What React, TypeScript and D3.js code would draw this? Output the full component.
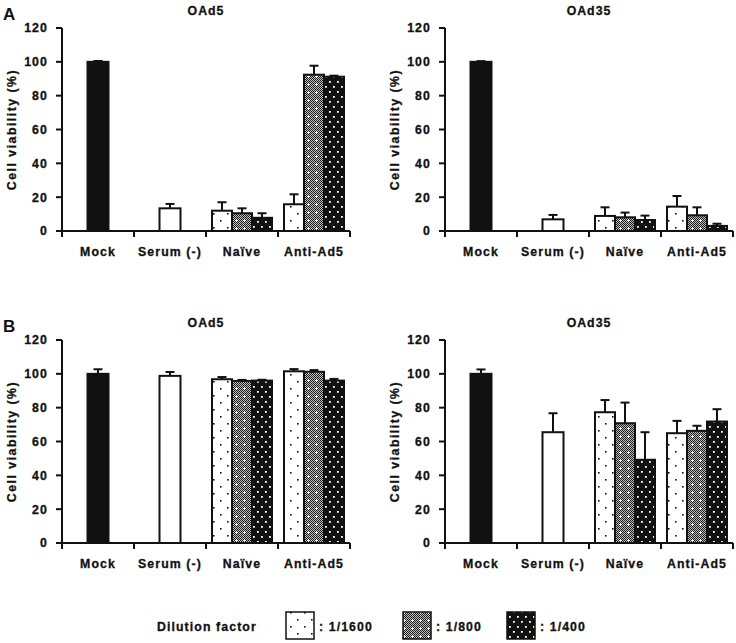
import { useRef, useEffect } from 'react'
import * as d3 from 'd3'

// categories and dilution series
const categories = ["Mock", "Serum (-)", "Naïve", "Anti-Ad5"]
const dilutions = ["1/1600", "1/800", "1/400"]
const yTicks = [0, 20, 40, 60, 80, 100, 120]

// values in order: Mock, Serum (-), Naïve x3 dilutions, Anti-Ad5 x3 dilutions
const aOAd5Mean = [100, 13.4, 12.0, 10.5, 7.8, 15.8, 92.4, 91.2]
const aOAd5Err = [0.5, 2.6, 5.0, 2.9, 2.7, 5.9, 5.3, 0.6]
const aOAd35Mean = [100, 6.9, 8.9, 8.1, 6.5, 14.4, 9.3, 3.0]
const aOAd35Err = [0.4, 2.6, 5.1, 2.8, 2.6, 6.3, 4.7, 1.3]
const bOAd5Mean = [100, 98.8, 96.8, 95.8, 96.0, 101.5, 101.2, 96.0]
const bOAd5Err = [2.7, 2.3, 1.3, 0.6, 0.5, 1.3, 1.0, 1.0]
const bOAd35Mean = [100, 65.5, 77.3, 70.8, 49.2, 64.9, 66.3, 71.8]
const bOAd35Err = [2.6, 11.2, 7.2, 12.2, 16.3, 7.3, 3.0, 7.3]

const FONT = "'Liberation Sans', Arial, Helvetica, sans-serif"
const fills: Record<string, string> = {
  "1/1600": "url(#p1600)",
  "1/800": "url(#p800)",
  "1/400": "url(#p400)",
}

interface Panel {
  title: string
  letter?: string
  x0: number
  y0: number
  labelX: number
  mean: number[]
  err: number[]
}

const panels: Panel[] = [
  { title: "OAd5", letter: "A", x0: 62, y0: 231, labelX: 16, mean: aOAd5Mean, err: aOAd5Err },
  { title: "OAd35", x0: 445, y0: 231, labelX: 399, mean: aOAd35Mean, err: aOAd35Err },
  { title: "OAd5", letter: "B", x0: 62, y0: 543, labelX: 16, mean: bOAd5Mean, err: bOAd5Err },
  { title: "OAd35", x0: 445, y0: 543, labelX: 399, mean: bOAd35Mean, err: bOAd35Err },
]

function label(sel: d3.Selection<SVGTextElement, unknown, null, undefined>, spacing = 1.1) {
  return sel
    .style("font-family", FONT)
    .style("font-weight", "bold")
    .style("font-size", "12.3px")
    .style("letter-spacing", `${spacing}px`)
    .style("fill", "#111")
    .style("stroke", "#111")
    .style("stroke-width", "0.3px")
}

export default function App() {
  const svgRef = useRef<SVGSVGElement>(null)

  useEffect(() => {
    if (!svgRef.current) return
    document.body.style.margin = "0"
    const svg = d3.select(svgRef.current)
    svg.selectAll("*").remove()

    // fill patterns
    const defs = svg.append("defs")
    const p1 = defs.append("pattern").attr("id", "p1600")
      .attr("patternUnits", "userSpaceOnUse").attr("width", 14).attr("height", 14)
    p1.append("rect").attr("width", 14).attr("height", 14).attr("fill", "#fff")
    p1.append("rect").attr("x", 3).attr("y", 3).attr("width", 1.6).attr("height", 1.6).attr("fill", "#111")
    p1.append("rect").attr("x", 10).attr("y", 10).attr("width", 1.6).attr("height", 1.6).attr("fill", "#111")

    const p2 = defs.append("pattern").attr("id", "p800")
      .attr("patternUnits", "userSpaceOnUse").attr("width", 8).attr("height", 8)
    p2.append("rect").attr("width", 8).attr("height", 8).attr("fill", "#c0c0c0")
    for (let i = 0; i < 8; i++) {
      for (let j = 0; j < 8; j++) {
        const plus = (i === 4 && j >= 3 && j <= 5) || (j === 4 && i >= 3 && i <= 5)
        if (plus) {
          p2.append("rect").attr("x", i).attr("y", j).attr("width", 1).attr("height", 1).attr("fill", "#fff")
        } else if ((i + j) % 2 === 0) {
          p2.append("rect").attr("x", i).attr("y", j).attr("width", 1).attr("height", 1).attr("fill", "#1a1a1a")
        }
      }
    }

    const p3 = defs.append("pattern").attr("id", "p400")
      .attr("patternUnits", "userSpaceOnUse").attr("width", 8).attr("height", 10)
    p3.append("rect").attr("width", 8).attr("height", 10).attr("fill", "#111")
    p3.append("rect").attr("x", 1).attr("y", 1).attr("width", 1.8).attr("height", 1.8).attr("fill", "#fff")
    p3.append("rect").attr("x", 5).attr("y", 6).attr("width", 1.8).attr("height", 1.8).attr("fill", "#fff")

    panels.forEach(p => {
      const g = svg.append("g")
      const x = d3.scaleBand<string>().domain(categories).range([p.x0, p.x0 + 288])
      const xs = d3.scaleBand<string>().domain(dilutions).range([0, 60])
      const y = d3.scaleLinear().domain([0, 120]).range([p.y0, p.y0 - 203])
      const bw = x.bandwidth()

      // bars
      const bars: { x: number; w: number; fill: string; v: number; e: number }[] = []
      bars.push({ x: x("Mock")! + (bw - 21) / 2, w: 21, fill: "#111", v: p.mean[0], e: p.err[0] })
      bars.push({ x: x("Serum (-)")! + (bw - 21) / 2, w: 21, fill: "#fff", v: p.mean[1], e: p.err[1] })
      dilutions.forEach((d, i) => {
        bars.push({ x: x("Naïve")! + (bw - 60) / 2 + xs(d)!, w: xs.bandwidth(), fill: fills[d], v: p.mean[2 + i], e: p.err[2 + i] })
      })
      dilutions.forEach((d, i) => {
        bars.push({ x: x("Anti-Ad5")! + (bw - 60) / 2 + xs(d)!, w: xs.bandwidth(), fill: fills[d], v: p.mean[5 + i], e: p.err[5 + i] })
      })

      // error bars (upper only)
      bars.forEach(b => {
        const cx = b.x + b.w / 2
        g.append("line")
          .attr("x1", cx).attr("x2", cx)
          .attr("y1", y(b.v)).attr("y2", y(b.v + b.e))
          .attr("stroke", "#111").attr("stroke-width", 2)
        g.append("line")
          .attr("x1", cx - 4.5).attr("x2", cx + 4.5)
          .attr("y1", y(b.v + b.e)).attr("y2", y(b.v + b.e))
          .attr("stroke", "#111").attr("stroke-width", 2)
      })

      g.selectAll(".bar")
        .data(bars)
        .enter()
        .append("rect")
        .attr("class", "bar")
        .attr("x", d => d.x)
        .attr("y", d => y(d.v))
        .attr("width", d => d.w)
        .attr("height", d => y(0) - y(d.v))
        .attr("fill", d => d.fill)
        .attr("stroke", "#111")
        .attr("stroke-width", 2)

      // y axis
      g.append("line")
        .attr("x1", p.x0).attr("x2", p.x0)
        .attr("y1", y(0) + 1).attr("y2", y(120))
        .attr("stroke", "#111").attr("stroke-width", 2)
      yTicks.forEach(t => {
        g.append("line")
          .attr("x1", p.x0 - 6).attr("x2", p.x0)
          .attr("y1", y(t)).attr("y2", y(t))
          .attr("stroke", "#111").attr("stroke-width", 2)
        label(g.append("text"))
          .attr("x", p.x0 - 14)
          .attr("y", y(t))
          .attr("dy", "0.36em")
          .attr("text-anchor", "end")
          .text(t)
      })

      // x axis
      g.append("line")
        .attr("x1", p.x0).attr("x2", p.x0 + 288)
        .attr("y1", y(0)).attr("y2", y(0))
        .attr("stroke", "#111").attr("stroke-width", 2)
      const bounds = categories.map(c => x(c)!).concat([p.x0 + 288])
      bounds.forEach(bx => {
        g.append("line")
          .attr("x1", bx).attr("x2", bx)
          .attr("y1", y(0)).attr("y2", y(0) + 6)
          .attr("stroke", "#111").attr("stroke-width", 2)
      })
      categories.forEach(c => {
        label(g.append("text"))
          .attr("x", x(c)! + bw / 2)
          .attr("y", y(0) + 25)
          .attr("text-anchor", "middle")
          .text(c)
      })

      // y label
      label(g.append("text"), 1.5)
        .attr("transform", `translate(${p.labelX},${(y(0) + y(120)) / 2}) rotate(-90)`)
        .attr("text-anchor", "middle")
        .text("Cell viability (%)")

      // title
      label(g.append("text"), 1)
        .attr("x", p.x0 + 144)
        .attr("y", y(120) - 13)
        .attr("text-anchor", "middle")
        .text(p.title)

      if (p.letter) {
        g.append("text")
          .attr("x", 3)
          .attr("y", y(120) - 8)
          .style("font-family", FONT)
          .style("font-weight", "bold")
          .style("font-size", "17px")
          .style("fill", "#111")
          .text(p.letter)
      }
    })

    // legend
    const legend = svg.append("g")
    label(legend.append("text"))
      .attr("x", 157).attr("y", 631)
      .text("Dilution factor")
    const legendX = [286, 403, 507]
    dilutions.forEach((d, i) => {
      legend.append("rect")
        .attr("x", legendX[i]).attr("y", 612)
        .attr("width", 28).attr("height", 27)
        .attr("fill", fills[d])
        .attr("stroke", "#111").attr("stroke-width", 1.5)
      label(legend.append("text"))
        .attr("x", legendX[i] + 33).attr("y", 631)
        .text(`: ${d}`)
    })
  }, [])

  return (
    <svg
      ref={svgRef}
      width={736}
      height={643}
      style={{ display: 'block', background: '#fff' }}
    />
  )
}
